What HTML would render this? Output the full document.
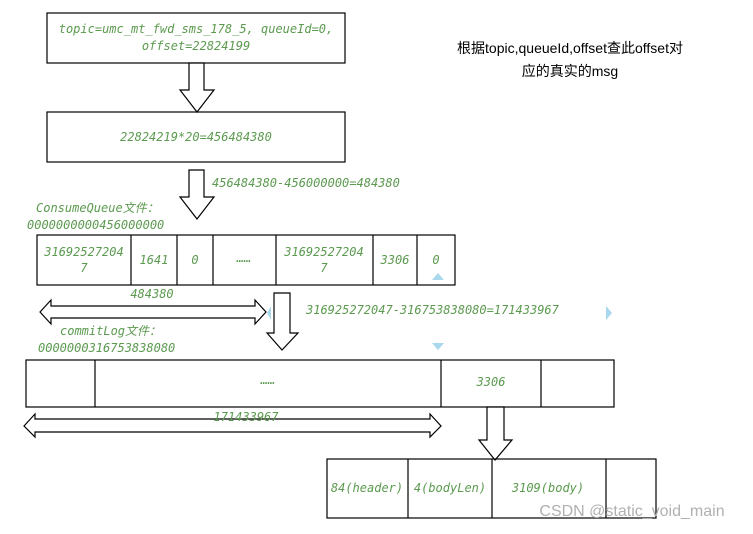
<!DOCTYPE html>
<html><head><meta charset="utf-8"><style>
body{margin:0;background:#fff}
svg text{font-family:"DejaVu Sans Mono","Liberation Mono",monospace;font-style:italic;fill:#5b9a4f;font-size:12px}
</style></head><body>
<svg width="753" height="529" xmlns="http://www.w3.org/2000/svg">
<g fill="none" stroke="#000" stroke-width="1.2">
<rect x="47" y="13" width="298" height="50" fill="#fff"/>
<rect x="47" y="112" width="298" height="50" fill="#fff"/>
<polygon points="189,63 204,63 204,90 214,90 197,112 180,90 189,90" fill="#fff"/>
<polygon points="189,170 204,170 204,197 214,197 197,219 180,197 189,197" fill="#fff"/>
<rect x="37" y="235" width="418" height="50"/>
<line x1="131" y1="235" x2="131" y2="285"/><line x1="177" y1="235" x2="177" y2="285"/>
<line x1="213" y1="235" x2="213" y2="285"/><line x1="276" y1="235" x2="276" y2="285"/>
<line x1="373" y1="235" x2="373" y2="285"/><line x1="417" y1="235" x2="417" y2="285"/>
<polygon points="40,312 51,300 51,306 255,306 255,300 266,312 255,324 255,318 51,318 51,324" fill="#fff"/>
<polygon points="274,293 290,293 290,333 298,333 282,350 267,333 274,333" fill="#fff"/>
<rect x="26" y="360" width="588" height="47"/>
<line x1="95" y1="360" x2="95" y2="407"/><line x1="441" y1="360" x2="441" y2="407"/><line x1="541" y1="360" x2="541" y2="407"/>
<polygon points="24,426 35,414 35,419 430,419 430,414 441,426 430,437 430,432 35,432 35,437" fill="#fff"/>
<polygon points="487,407 504,407 504,440 512,440 495,460 479,440 487,440" fill="#fff"/>
<rect x="327" y="459" width="329" height="59"/>
<line x1="408" y1="459" x2="408" y2="518"/><line x1="492" y1="459" x2="492" y2="518"/><line x1="606" y1="459" x2="606" y2="518"/>
</g>
<g fill="#a8d8ec">
<polygon points="267,313 271,306 271,320"/><polygon points="606,306 612,313 606,320"/>
<polygon points="432,343 444,343 438,350"/><polygon points="432,280 444,280 438,273"/>
</g>
<text x="196" y="33" text-anchor="middle">topic=umc_mt_fwd_sms_178_5, queueId=0,</text>
<text x="196" y="50" text-anchor="middle">offset=22824199</text>
<text x="196" y="141" text-anchor="middle">22824219*20=456484380</text>
<text x="212" y="187">456484380-456000000=484380</text>
<text x="36" y="212">ConsumeQueue文件：</text>
<text x="27" y="229">0000000000456000000</text>
<text x="84" y="256" text-anchor="middle">31692527204</text><text x="84" y="272" text-anchor="middle">7</text>
<text x="154" y="264" text-anchor="middle">1641</text><text x="195" y="264" text-anchor="middle">0</text>
<text x="244" y="262" text-anchor="middle">……</text>
<text x="324" y="256" text-anchor="middle">31692527204</text><text x="324" y="272" text-anchor="middle">7</text>
<text x="395" y="264" text-anchor="middle">3306</text><text x="436" y="264" text-anchor="middle">0</text>
<text x="152" y="298" text-anchor="middle">484380</text>
<text x="306" y="314">316925272047-316753838080=171433967</text>
<text x="60" y="335">commitLog文件：</text>
<text x="38" y="352">0000000316753838080</text>
<text x="268" y="384" text-anchor="middle">……</text>
<text x="491" y="386" text-anchor="middle">3306</text>
<text x="246" y="421" text-anchor="middle">171433967</text>
<text x="367" y="492" text-anchor="middle">84(header)</text>
<text x="450" y="492" text-anchor="middle">4(bodyLen)</text>
<text x="548" y="492" text-anchor="middle">3109(body)</text>
<text x="570" y="53" text-anchor="middle" style="font-family:'Liberation Sans','Noto Sans CJK SC',sans-serif;font-style:normal;fill:#000;font-size:14px">根据topic,queueId,offset查此offset对</text>
<text x="570" y="76" text-anchor="middle" style="font-family:'Liberation Sans','Noto Sans CJK SC',sans-serif;font-style:normal;fill:#000;font-size:14px">应的真实的msg</text>
<text x="632" y="516" text-anchor="middle" style="font-family:'Liberation Sans',sans-serif;font-style:normal;fill:#b0b0b0;font-size:16px">CSDN @static_void_main</text>
</svg>
</body></html>
